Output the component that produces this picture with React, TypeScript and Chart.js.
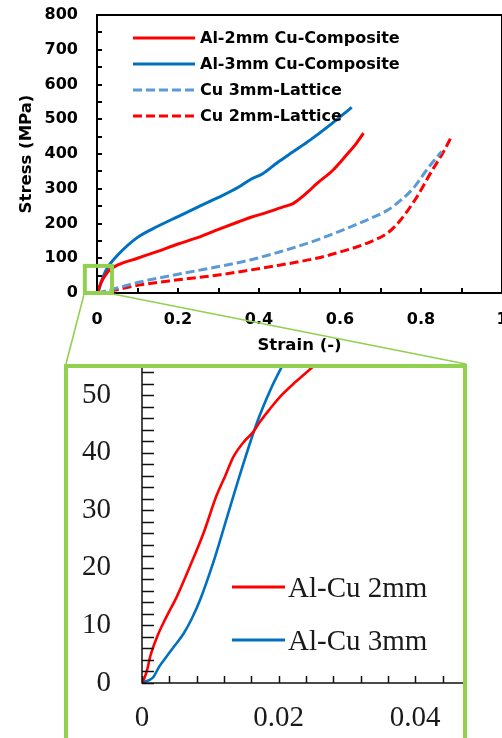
import React, { useEffect, useRef } from "react";
import { Chart, registerables } from "chart.js";

Chart.register(...registerables);

// ---------------- Main chart data ----------------
const AL2_STRAIN = [0, 0.005, 0.01, 0.02, 0.03, 0.05, 0.1, 0.15, 0.2, 0.25, 0.3, 0.35, 0.38, 0.42, 0.46, 0.485, 0.52, 0.542, 0.583, 0.616, 0.64, 0.658];
const AL2_STRESS = [0, 15, 30, 50, 65, 80, 100, 120, 141, 160, 183, 205, 218, 232, 248, 258, 290, 314, 354, 397, 430, 460];

const AL3_STRAIN = [0, 0.005, 0.01, 0.02, 0.03, 0.05, 0.1, 0.15, 0.2, 0.25, 0.3, 0.35, 0.378, 0.41, 0.445, 0.485, 0.526, 0.575, 0.6, 0.629];
const AL3_STRESS = [0, 10, 30, 60, 80, 108, 160, 192, 220, 248, 275, 305, 326, 344, 375, 407, 440, 483, 507, 534];

const CU3_STRAIN = [0, 0.03, 0.1, 0.2, 0.3, 0.378, 0.45, 0.542, 0.6, 0.666, 0.72, 0.748, 0.78, 0.814, 0.835, 0.851];
const CU3_STRESS = [0, 8, 30, 54, 76, 95, 118, 152, 178, 210, 240, 265, 300, 354, 385, 407];

const CU2_STRAIN = [0, 0.03, 0.1, 0.2, 0.3, 0.378, 0.45, 0.542, 0.6, 0.666, 0.72, 0.748, 0.789, 0.826, 0.855, 0.876];
const CU2_STRESS = [0, 5, 22, 38, 52, 66, 80, 100, 118, 143, 175, 208, 275, 350, 405, 452];

const MAIN_LABELS = ["Al-2mm Cu-Composite", "Al-3mm Cu-Composite", "Cu 3mm-Lattice", "Cu 2mm-Lattice"];

// ---------------- Inset data ----------------
const IN_RED_STRAIN = [0, 0.0004, 0.0008, 0.0012, 0.0022, 0.0035, 0.0051, 0.007, 0.009, 0.0109, 0.0122, 0.0134, 0.015, 0.0163, 0.0173, 0.0188, 0.0202, 0.0225, 0.0251];
const IN_RED_STRESS = [0, 1, 2.5, 4.6, 8, 11.3, 15, 20.2, 26, 32.5, 36, 39.3, 42, 43.6, 45.4, 47.7, 49.7, 52.3, 55];

const IN_BLUE_STRAIN = [0, 0.0006, 0.0012, 0.0017, 0.0025, 0.0036, 0.0048, 0.0061, 0.0073, 0.0085, 0.0104, 0.0119, 0.0144, 0.0168, 0.0188, 0.0202, 0.0212];
const IN_BLUE_STRESS = [0, 0.3, 0.6, 1.1, 2.8, 4.6, 6.5, 8.6, 11.2, 14.4, 20.8, 26.6, 36.4, 45.1, 50.9, 54.3, 56.5];

const INSET_LABELS = ["Al-Cu 2mm", "Al-Cu 3mm"];

// Zoom box (in main-chart data units) and inset axis ranges
const BOX_STRAIN = [-0.03, 0.037];
const BOX_STRESS = [0, 78];
const INSET_X_MAX = 0.047;
const INSET_Y_MAX = 54.7;

// ---------------- Styles / layout ----------------
const RED = "#FF0000";
const BLUE = "#0070C0";
const LIGHT_BLUE = "#5B9BD5";
const GREEN = "#92D050";
const SANS = '"DejaVu Sans", sans-serif';
const SERIF = '"Liberation Serif", "Times New Roman", serif';

const MAIN_W = 520;
const MAIN_H = 370;
const FRAME = { left: 64, top: 364, border: 4, width: 395, height: 420 };

const pts = (xs: number[], ys: number[]) => xs.map((x, i) => ({ x, y: ys[i] }));

const zeroPad = (s: any) => {
  s.paddingTop = 0;
  s.paddingBottom = 0;
  s.paddingLeft = 0;
  s.paddingRight = 0;
};

const mainDecor = {
  id: "mainDecor",
  afterDatasetsDraw(chart: any) {
    const { ctx, chartArea: a, scales } = chart;
    const xs = scales.x;
    const ys = scales.y;
    ctx.save();
    ctx.setLineDash([]);
    ctx.strokeStyle = "#000";
    ctx.lineWidth = 2;
    ctx.strokeRect(a.left, a.top, a.right - a.left, a.bottom - a.top);
    ctx.beginPath();
    xs.ticks.forEach((t: any) => {
      const p = Math.round(xs.getPixelForValue(t.value));
      ctx.moveTo(p, a.bottom);
      ctx.lineTo(p, a.bottom - 5);
    });
    ys.ticks.forEach((t: any) => {
      const p = Math.round(ys.getPixelForValue(t.value));
      ctx.moveTo(a.left, p);
      ctx.lineTo(a.left + 5, p);
    });
    ctx.stroke();

    // legend
    ctx.font = `bold 16px ${SANS}`;
    ctx.textBaseline = "middle";
    ctx.textAlign = "left";
    chart.data.datasets.forEach((ds: any, i: number) => {
      const y = a.top + 23 + i * 26;
      const x0 = a.left + 36;
      ctx.strokeStyle = ds.borderColor;
      ctx.lineWidth = 3;
      ctx.setLineDash(ds.borderDash || []);
      ctx.beginPath();
      ctx.moveTo(x0, y);
      ctx.lineTo(x0 + 62, y);
      ctx.stroke();
      ctx.setLineDash([]);
      ctx.fillStyle = "#000";
      ctx.fillText(ds.label, x0 + 67, y + 1);
    });

    // zoom box and connectors
    const bx0 = xs.getPixelForValue(BOX_STRAIN[0]);
    const bx1 = xs.getPixelForValue(BOX_STRAIN[1]);
    const by0 = ys.getPixelForValue(BOX_STRESS[0]);
    const by1 = ys.getPixelForValue(BOX_STRESS[1]);
    ctx.strokeStyle = GREEN;
    ctx.lineWidth = 1.6;
    ctx.beginPath();
    ctx.moveTo(bx0 - 1, by0 + 2);
    ctx.lineTo(FRAME.left + 2, FRAME.top);
    ctx.moveTo(bx1 + 1, by0 + 1);
    ctx.lineTo(FRAME.left + FRAME.width + FRAME.border * 2 - 1, FRAME.top);
    ctx.stroke();
    ctx.lineWidth = 4;
    ctx.strokeRect(bx0, by1, bx1 - bx0, by0 - by1);
    ctx.restore();
  },
};

const insetDecor = {
  id: "insetDecor",
  afterDatasetsDraw(chart: any) {
    const { ctx, chartArea: a, scales } = chart;
    const xs = scales.x;
    const ys = scales.y;
    ctx.save();
    ctx.setLineDash([]);
    ctx.strokeStyle = "#111";
    ctx.lineWidth = 1.5;
    ctx.beginPath();
    ctx.moveTo(a.left, a.top);
    ctx.lineTo(a.left, a.bottom);
    ctx.lineTo(a.right, a.bottom);
    xs.ticks.forEach((t: any) => {
      const p = Math.round(xs.getPixelForValue(t.value)) + 0.5;
      ctx.moveTo(p, a.bottom);
      ctx.lineTo(p, a.bottom - 7);
    });
    ys.ticks.forEach((t: any) => {
      const p = Math.round(ys.getPixelForValue(t.value)) + 0.5;
      ctx.moveTo(a.left, p);
      ctx.lineTo(a.left + 12, p);
    });
    ctx.stroke();

    ctx.font = `29px ${SERIF}`;
    ctx.textBaseline = "middle";
    ctx.textAlign = "left";
    chart.data.datasets.forEach((ds: any, i: number) => {
      const y = a.top + 219 + i * 53;
      const x0 = a.left + 90;
      ctx.strokeStyle = ds.borderColor;
      ctx.lineWidth = 3;
      ctx.beginPath();
      ctx.moveTo(x0, y);
      ctx.lineTo(x0 + 53, y);
      ctx.stroke();
      ctx.fillStyle = "#1a1a1a";
      ctx.fillText(ds.label, x0 + 56, y + 2);
    });
    ctx.restore();
  },
};

export default function App() {
  const mainRef = useRef<HTMLCanvasElement>(null);
  const insetRef = useRef<HTMLCanvasElement>(null);

  useEffect(() => {
    const lineDs = (label: string, xs: number[], ys: number[], color: string, dash?: number[]) => ({
      label,
      data: pts(xs, ys),
      borderColor: color,
      backgroundColor: color,
      borderWidth: 3,
      borderDash: dash || [],
      pointRadius: 0,
      cubicInterpolationMode: "monotone" as const,
      fill: false,
    });

    const main = new Chart(mainRef.current as HTMLCanvasElement, {
      type: "line",
      data: {
        datasets: [
          lineDs(MAIN_LABELS[0], AL2_STRAIN, AL2_STRESS, RED),
          lineDs(MAIN_LABELS[1], AL3_STRAIN, AL3_STRESS, BLUE),
          lineDs(MAIN_LABELS[2], CU3_STRAIN, CU3_STRESS, LIGHT_BLUE, [9, 4]),
          lineDs(MAIN_LABELS[3], CU2_STRAIN, CU2_STRESS, RED, [9, 4]),
        ],
      },
      options: {
        responsive: false,
        animation: false,
        devicePixelRatio: 1,
        layout: { autoPadding: false, padding: { top: 15, right: 18, left: 0, bottom: 0 } },
        plugins: { legend: { display: false }, tooltip: { enabled: false } },
        scales: {
          x: {
            type: "linear",
            min: 0,
            max: 1,
            grid: { display: false, drawTicks: false },
            border: { display: false },
            ticks: {
              stepSize: 0.1,
              autoSkip: false,
              maxRotation: 0,
              minRotation: 0,
              padding: 17,
              color: "#000",
              font: { family: SANS, size: 16, weight: "bold" },
              callback: (v: any) => {
                const n = Math.round(Number(v) * 10);
                if (n % 2 !== 0) return "";
                return n === 0 ? "0" : n === 10 ? "1" : (n / 10).toFixed(1);
              },
            },
            title: {
              display: true,
              text: "Strain (-)",
              color: "#000",
              font: { family: SANS, size: 16.5, weight: "bold" },
              padding: { top: 0, bottom: 14 },
            },
            afterFit: (s: any) => {
              s.height = MAIN_H - 15 - 278;
              zeroPad(s);
            },
          },
          y: {
            type: "linear",
            min: 0,
            max: 800,
            grid: { display: false, drawTicks: false },
            border: { display: false },
            ticks: {
              stepSize: 50,
              autoSkip: false,
              padding: 19,
              color: "#000",
              font: { family: SANS, size: 16, weight: "bold" },
              callback: (v: any) => (Number(v) % 100 === 0 ? String(v) : ""),
            },
            title: {
              display: true,
              text: "Stress (MPa)",
              color: "#000",
              font: { family: SANS, size: 16.5, weight: "bold" },
              padding: { top: 17, bottom: 0 },
            },
            afterFit: (s: any) => {
              s.width = 97;
              zeroPad(s);
            },
          },
        },
      },
      plugins: [mainDecor],
    } as any);

    const insetDs = (label: string, xs: number[], ys: number[], color: string) => ({
      label,
      data: pts(xs, ys),
      borderColor: color,
      backgroundColor: color,
      borderWidth: 2.6,
      pointRadius: 0,
      cubicInterpolationMode: "monotone" as const,
      fill: false,
    });

    const inset = new Chart(insetRef.current as HTMLCanvasElement, {
      type: "line",
      data: {
        datasets: [
          insetDs(INSET_LABELS[0], IN_RED_STRAIN, IN_RED_STRESS, RED),
          insetDs(INSET_LABELS[1], IN_BLUE_STRAIN, IN_BLUE_STRESS, BLUE),
        ],
      },
      options: {
        responsive: false,
        animation: false,
        devicePixelRatio: 1,
        layout: { autoPadding: false, padding: 0 },
        plugins: { legend: { display: false }, tooltip: { enabled: false } },
        scales: {
          x: {
            type: "linear",
            min: 0,
            max: INSET_X_MAX,
            grid: { display: false, drawTicks: false },
            border: { display: false },
            ticks: {
              stepSize: 0.004,
              includeBounds: false,
              autoSkip: false,
              maxRotation: 0,
              minRotation: 0,
              padding: 18,
              color: "#1a1a1a",
              font: { family: SERIF, size: 29 },
              callback: (v: any) => {
                const n = Math.round(Number(v) / 0.004);
                if (n % 5 !== 0) return "";
                return n === 0 ? "0" : (n * 0.004).toFixed(2);
              },
            },
            afterFit: (s: any) => {
              s.height = 55;
              zeroPad(s);
            },
          },
          y: {
            type: "linear",
            min: 0,
            max: INSET_Y_MAX,
            grid: { display: false, drawTicks: false },
            border: { display: false },
            ticks: {
              stepSize: 2,
              includeBounds: false,
              autoSkip: false,
              padding: 31,
              color: "#1a1a1a",
              font: { family: SERIF, size: 29 },
              callback: (v: any) => (Math.round(Number(v)) % 10 === 0 ? String(Math.round(Number(v))) : ""),
            },
            afterFit: (s: any) => {
              s.width = 74;
              zeroPad(s);
            },
          },
        },
      },
      plugins: [insetDecor],
    } as any);

    return () => {
      main.destroy();
      inset.destroy();
    };
  }, []);

  return (
    <div
      style={{
        position: "absolute",
        left: 0,
        top: 0,
        width: 502,
        height: 738,
        overflow: "hidden",
        background: "#fff",
      }}
    >
      <div
        style={{
          position: "absolute",
          left: FRAME.left,
          top: FRAME.top,
          width: FRAME.width,
          height: FRAME.height,
          border: `${FRAME.border}px solid ${GREEN}`,
          zIndex: 1,
        }}
      >
        <canvas
          ref={insetRef}
          width={FRAME.width}
          height={370}
          style={{ position: "absolute", left: 0, top: 0, width: FRAME.width, height: 370 }}
        />
      </div>
      <canvas
        ref={mainRef}
        width={MAIN_W}
        height={MAIN_H}
        style={{ position: "absolute", left: 0, top: 0, width: MAIN_W, height: MAIN_H, zIndex: 2 }}
      />
    </div>
  );
}
